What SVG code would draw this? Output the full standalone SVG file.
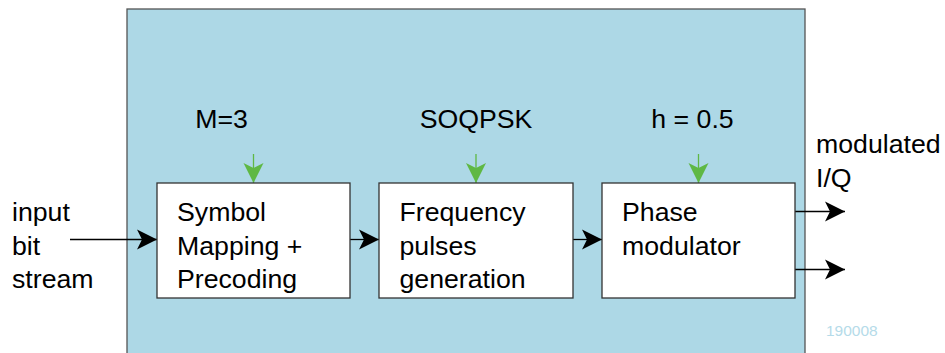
<svg xmlns="http://www.w3.org/2000/svg" width="945" height="353" viewBox="0 0 945 353">
<style>
text{font-family:"Liberation Sans",Arial,sans-serif;font-size:26.7px;fill:#000}
.box{fill:#fff;stroke:#333;stroke-width:1.3}
.ln{stroke:#000;stroke-width:1.3;fill:none}
.gl{stroke:#5fb844;stroke-width:1.3;fill:none}
.id{font-size:15.5px;fill:#b5dbe9}
</style>
<defs>
<marker id="ah" viewBox="0 0 20 22" refX="20" refY="11" markerWidth="20" markerHeight="22" markerUnits="userSpaceOnUse" orient="auto">
<path d="M0,1 L20,11 L0,21 L5,11 Z" fill="#000"/>
</marker>
<marker id="gh" viewBox="0 0 20 22" refX="20" refY="11" markerWidth="20" markerHeight="22" markerUnits="userSpaceOnUse" orient="auto">
<path d="M0,1 L20,11 L0,21 L5,11 Z" fill="#5fb844"/>
</marker>
</defs>
<rect x="127" y="9" width="678" height="360" fill="#add8e6" stroke="#555" stroke-width="1.3"/>
<g id="connectors">
<line class="ln" x1="70" y1="239.5" x2="157" y2="239.5" marker-end="url(#ah)"/>
<line class="ln" x1="350" y1="239.5" x2="379" y2="239.5" marker-end="url(#ah)"/>
<line class="ln" x1="573" y1="239.5" x2="602" y2="239.5" marker-end="url(#ah)"/>
<line class="ln" x1="795" y1="211.5" x2="845" y2="211.5" marker-end="url(#ah)"/>
<line class="ln" x1="795" y1="269.5" x2="845" y2="269.5" marker-end="url(#ah)"/>
<line class="gl" x1="253.5" y1="154" x2="253.5" y2="183" marker-end="url(#gh)"/>
<line class="gl" x1="476" y1="154" x2="476" y2="183" marker-end="url(#gh)"/>
<line class="gl" x1="698.5" y1="154" x2="698.5" y2="183" marker-end="url(#gh)"/>
</g>
<g id="symbol-mapping">
<rect class="box" x="157" y="183" width="193" height="115"/>
<text x="177" y="221">Symbol</text>
<text x="177" y="254.5">Mapping +</text>
<text x="177" y="288">Precoding</text>
</g>
<g id="frequency-pulses">
<rect class="box" x="379" y="183" width="194" height="115"/>
<text x="399.5" y="221">Frequency</text>
<text x="399.5" y="254.5">pulses</text>
<text x="399.5" y="288">generation</text>
</g>
<g id="phase-modulator">
<rect class="box" x="602" y="183" width="193" height="115"/>
<text x="622" y="221">Phase</text>
<text x="622" y="254.5">modulator</text>
</g>
<g id="labels">
<text x="221.5" y="128" text-anchor="middle">M=3</text>
<text x="476" y="128" text-anchor="middle">SOQPSK</text>
<text x="692.5" y="128" text-anchor="middle">h = 0.5</text>
<text x="12" y="221">input</text>
<text x="12" y="254.5">bit</text>
<text x="12" y="288">stream</text>
<text x="816" y="153">modulated</text>
<text x="816" y="187">I/Q</text>
<text class="id" x="826" y="336">190008</text>
</g>
</svg>
